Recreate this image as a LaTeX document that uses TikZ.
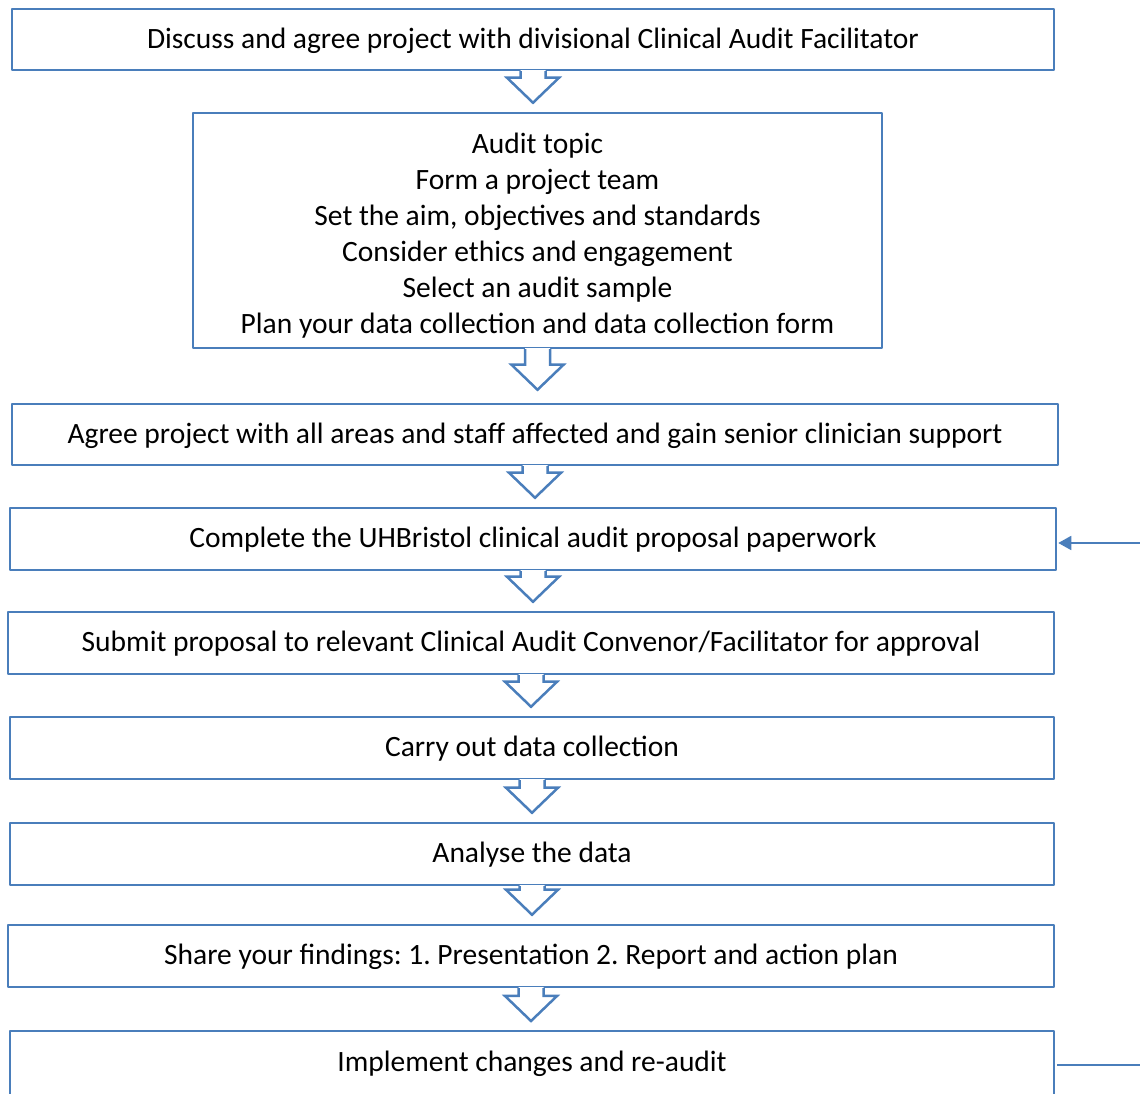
\documentclass[tikz,border=0pt]{standalone}
\usepackage{fontspec}
\setmainfont{Carlito}
\frenchspacing
\usetikzlibrary{arrows.meta,calc}
\definecolor{boxblue}{RGB}{74,126,187}
\tikzset{
  stepbox/.style={draw=boxblue,line width=2.5bp,fill=white,inner sep=0pt,
    text height=23bp,text depth=5bp,font=\fontsize{29.5bp}{36bp}\selectfont},
  blockarr/.style={draw=boxblue,line width=2.5bp,line join=miter},
}
% hollow block arrow from the bottom of #2 down towards #3, #1 = gap left above #3
\newcommand{\blockarrow}[3][9bp]{%
  \fill[white] let \p1=(#2.south),\p2=(#3.north) in
    (\x1-12.5bp,\y1+1bp) -- (\x1-12.5bp,\y2+#1+25bp) -- (\x1-26bp,\y2+#1+25bp) -- (\x1,\y2+#1)
    -- (\x1+26bp,\y2+#1+25bp) -- (\x1+12.5bp,\y2+#1+25bp) -- (\x1+12.5bp,\y1+1bp) -- cycle;
  \draw[blockarr] let \p1=(#2.south),\p2=(#3.north) in
    (\x1-12.5bp,\y1) -- (\x1-12.5bp,\y2+#1+25bp) -- (\x1-26bp,\y2+#1+25bp) -- (\x1,\y2+#1)
    -- (\x1+26bp,\y2+#1+25bp) -- (\x1+12.5bp,\y2+#1+25bp) -- (\x1+12.5bp,\y1);}

\begin{document}
\begin{tikzpicture}[>=latex,line join=bevel,]
\clip (0bp,0bp) rectangle (1140bp,1094bp);
%%
\node (node_0) at (533bp,1054.5bp) [stepbox,minimum width=1042bp,minimum height=61bp] {Discuss and agree project with divisional Clinical Audit Facilitator};
  \node (node_1) at (537.5bp,863.5bp) [stepbox,minimum width=689bp,minimum height=235bp,align=center,text height=,text depth=] {\rule{0pt}{31bp}Audit topic\\Form a project team\\Set the aim, objectives and standards\\Consider ethics and engagement\\Select an audit sample\\Plan your data collection and data collection form};
  \node (node_2) at (535bp,659.5bp) [stepbox,minimum width=1046bp,minimum height=61bp] {Agree project with all areas and staff affected and gain senior clinician support};
  \node (node_3) at (533bp,555bp) [stepbox,minimum width=1046bp,minimum height=62bp] {Complete the UHBristol clinical audit proposal paperwork};
  \node (node_4) at (531bp,451bp) [stepbox,minimum width=1046bp,minimum height=62bp] {Submit proposal to relevant Clinical Audit Convenor/Facilitator for approval};
  \node (node_5) at (532bp,346bp) [stepbox,minimum width=1044bp,minimum height=62bp] {Carry out data collection};
  \node (node_6) at (532bp,240bp) [stepbox,minimum width=1044bp,minimum height=62bp] {Analyse the data};
  \node (node_7) at (531bp,138bp) [stepbox,minimum width=1046bp,minimum height=62bp] {Share your findings: 1. Presentation 2. Report and action plan};
  \node (node_8) at (532bp,64bp) [stepbox,anchor=north,minimum width=1044bp,minimum height=74bp,text height=23bp,text depth=17bp] {Implement changes and re-audit};
  \coordinate (loop_in) at (1140bp,551bp);
  \coordinate (loop_out) at (1140bp,29bp);
  \blockarrow{node_0}{node_1}
  \blockarrow[13bp]{node_1}{node_2}
  \blockarrow{node_2}{node_3}
  \blockarrow{node_3}{node_4}
  \blockarrow{node_4}{node_5}
  \blockarrow{node_5}{node_6}
  \blockarrow{node_6}{node_7}
  \blockarrow{node_7}{node_8}
  \draw [boxblue,line width=1.8bp,-{Triangle[length=13bp,width=14bp]}] (loop_in) -- ([xshift=1bp]node_3.east |- loop_in);
  \draw [boxblue,line width=2.5bp] (loop_out) -- ([xshift=2bp]node_8.east |- loop_out);
%
\end{tikzpicture}
\end{document}
